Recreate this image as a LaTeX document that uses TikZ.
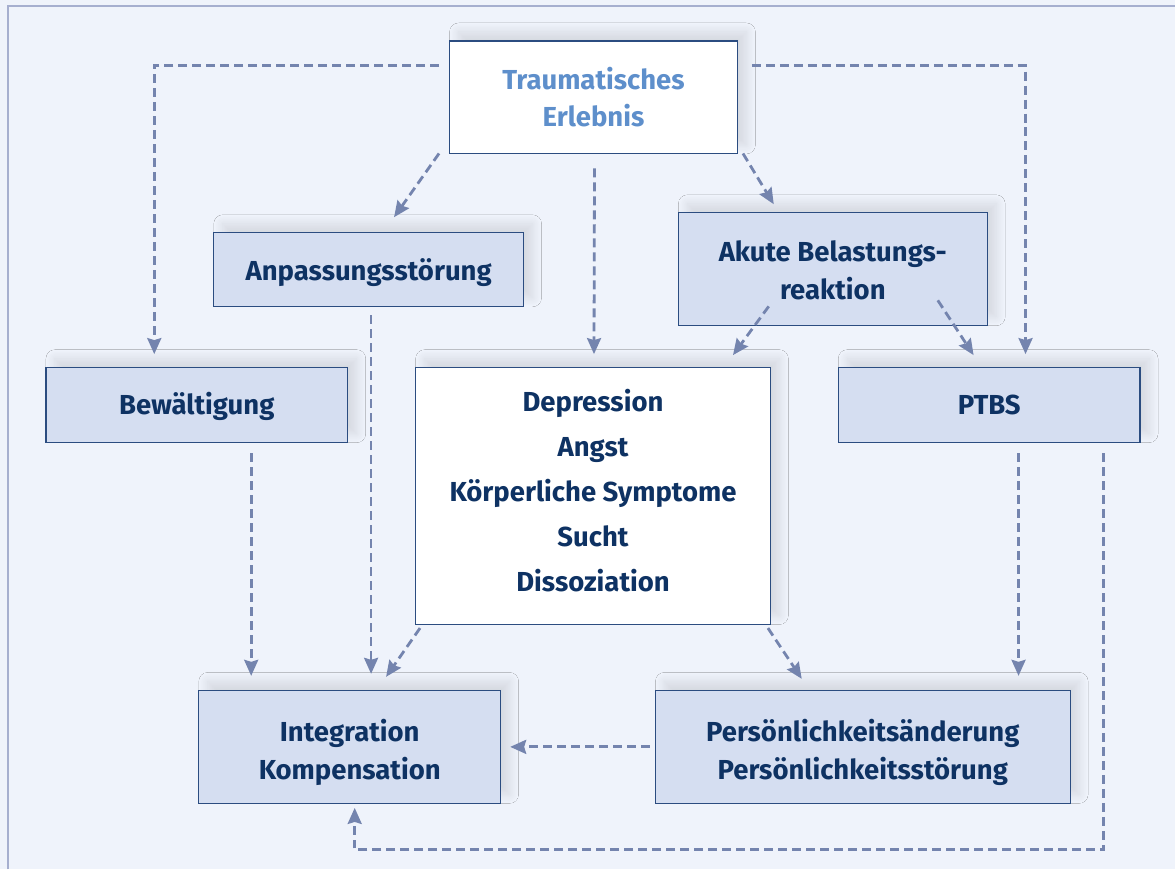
\documentclass[tikz,border=0pt]{standalone}
\usepackage{fontspec}
\setsansfont{Fira Sans}
\usepackage{xcolor}
\usetikzlibrary{calc,arrows.meta,shadows.blur}
\definecolor{bgblue}{HTML}{EFF3FB}
\definecolor{framegray}{HTML}{A6AFCF}
\definecolor{boxfill}{HTML}{D5DEF1}
\definecolor{boxline}{HTML}{2B4C80}
\definecolor{textnavy}{HTML}{0E3263}
\definecolor{textlight}{HTML}{5E8FCB}
\definecolor{arrowgray}{HTML}{7484AE}
\newcommand{\boxlines}[2]{\raisebox{#1}[\height][\depth]{\begin{tabular}{@{}c@{}}#2\end{tabular}}}

\begin{document}
\begin{tikzpicture}[x=1pt,y=-1pt,font=\sffamily\bfseries\fontsize{27.5}{38}\selectfont,
  box/.style={draw=boxline,line width=1.2pt,fill=boxfill,text=textnavy,align=center,
    inner sep=0pt,blur shadow={shadow xshift=9pt,shadow yshift=9pt,shadow blur radius=9pt,
      shadow blur steps=16,shadow opacity=11}},
  whitebox/.style={box,fill=white},
  conn/.style={draw=arrowgray,line width=2.8pt,dash pattern=on 9pt off 5pt,
    -{Stealth[length=16pt,width=14pt,inset=2pt]}}]
\fill[bgblue] (0,0) rectangle (1176,870);
\draw[framegray,line width=2pt] (8,870) -- (8,6) -- (1176,6);
% boxes
\node[whitebox,minimum width=288,minimum height=113,text=textlight] (trauma) at (594,97.5) {\boxlines{-3pt}{Traumatisches\\Erlebnis}};
\node[box,minimum width=310,minimum height=74] (anp) at (369,270) {\boxlines{-3pt}{Anpassungsstörung}};
\node[box,minimum width=309,minimum height=113] (akute) at (833.5,269.5) {\boxlines{-4pt}{Akute Belastungs-\\reaktion}};
\node[box,minimum width=302,minimum height=75] (bew) at (197,405.5) {\boxlines{-2pt}{Bewältigung}};
\node[whitebox,minimum width=355,minimum height=257,font=\sffamily\bfseries\fontsize{27.5}{45}\selectfont] (sym) at (593.5,496.5)
  {\boxlines{4pt}{Depression\\Angst\\Körperliche Symptome\\Sucht\\Dissoziation}};
\node[box,minimum width=302,minimum height=75] (ptbs) at (990,405.5) {\boxlines{-2pt}{PTBS}};
\node[box,minimum width=302,minimum height=113] (integ) at (350,747.5) {\boxlines{-6pt}{Integration\\Kompensation}};
\node[box,minimum width=415,minimum height=113] (pers) at (863.5,747.5) {\boxlines{-6pt}{Persönlichkeitsänderung\\Persönlichkeitsstörung}};
% connectors
\draw[conn] ($(trauma.north west)+(-10,25)$) -| ($(bew.north west)+(109,-13)$);
\draw[conn] ($(trauma.north east)+(14,25)$) -| ($(ptbs.north west)+(188,-13)$);
\draw[conn] ($(trauma.south west)+(-10,-1)$) -- ($(anp.north west)+(181,-15)$);
\draw[conn] ($(trauma.south)+(1,14)$) -- ($(sym.north)+(1,-13)$);
\draw[conn] ($(trauma.south east)+(5,-1)$) -- ($(akute.north west)+(96,-8)$);
\draw[conn] ($(akute.south west)+(91,-20)$) -- ($(sym.north east)+(-38,-12)$);
\draw[conn] ($(akute.south east)+(-50,-26)$) -- ($(ptbs.north west)+(136,-12)$);
\draw[conn] ($(anp.south west)+(158,8)$) -- ($(integ.north west)+(173,-16)$);
\draw[conn] ($(bew.south west)+(206,10)$) -- ($(integ.north west)+(53,-14)$);
\draw[conn] ($(sym.south west)+(5,3)$) -- ($(integ.north west)+(188,-13)$);
\draw[conn] ($(sym.south east)+(-3,3)$) -- ($(pers.north west)+(147,-11)$);
\draw[conn] ($(ptbs.south west)+(181,10)$) -- ($(pers.north west)+(364,-14)$);
\draw[conn] ($(pers.west)+(-5,0)$) -- ($(integ.east)+(9,0)$);
\draw[conn] ($(ptbs.south east)+(-37,10)$) |- ($(integ.south)+(5,46)$) -- ($(integ.south)+(5,4)$);
\end{tikzpicture}
\end{document}
